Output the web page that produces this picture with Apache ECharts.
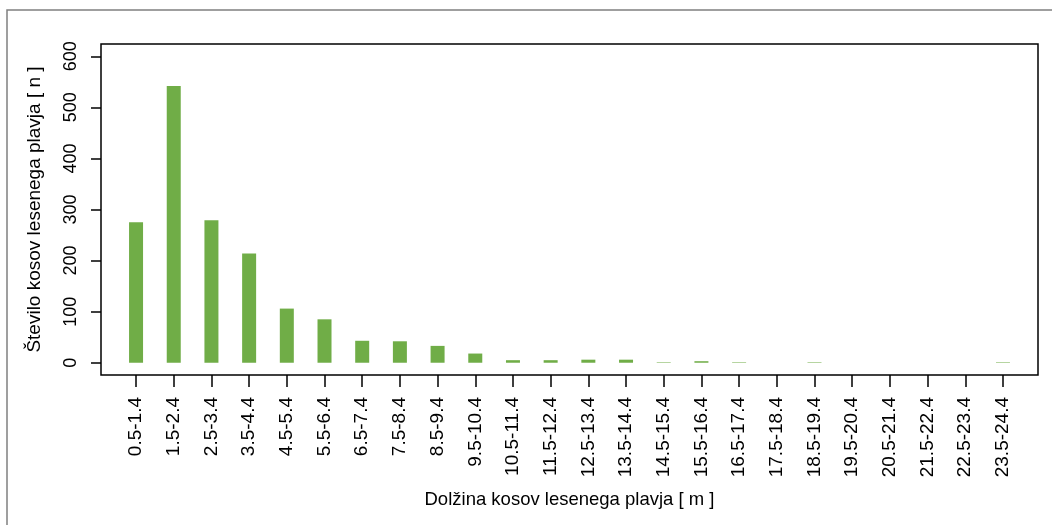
<!DOCTYPE html>
<html>
<head>
<meta charset="utf-8">
<script src="https://cdn.jsdelivr.net/npm/echarts@6/dist/echarts.min.js"></script>
<style>html,body{margin:0;padding:0;background:#fff}#c{width:1052px;height:525px}</style>
</head>
<body>
<div id="c"></div>
<script>
const categories = ['0.5-1.4','1.5-2.4','2.5-3.4','3.5-4.4','4.5-5.4','5.5-6.4','6.5-7.4','7.5-8.4','8.5-9.4','9.5-10.4','10.5-11.4','11.5-12.4','12.5-13.4','13.5-14.4','14.5-15.4','15.5-16.4','16.5-17.4','17.5-18.4','18.5-19.4','19.5-20.4','20.5-21.4','21.5-22.4','22.5-23.4','23.5-24.4'];
const counts = [275, 542, 279, 214, 106, 85, 43, 42, 33, 18, 5, 5, 6, 6, 1, 3, 1, 0, 1, 0, 0, 0, 0, 1];
const yTicks = [0, 100, 200, 300, 400, 500, 600];
const xTitle = 'Dolžina kosov lesenega plavja [ m ]';
const yTitle = 'Število kosov lesenega plavja [ n ]';

const font = 'Liberation Sans, Arial, sans-serif';
const xIdx = categories.map((c, i) => i);
const chart = echarts.init(document.getElementById('c'), null, {renderer: 'canvas'});
chart.setOption({
  animation: false,
  backgroundColor: '#fff',
  graphic: [{
    type: 'rect', silent: true,
    shape: {x: 7, y: 10, width: 1200, height: 700},
    style: {fill: 'none', stroke: '#808080', lineWidth: 1.5}
  }],
  grid: {left: 101, top: 44, width: 937, height: 331, show: true, borderColor: '#000', borderWidth: 1.5, backgroundColor: 'transparent'},
  xAxis: {
    type: 'value', min: -0.93, max: 23.93,
    axisLine: {show: false, onZero: false},
    splitLine: {show: false},
    axisTick: {show: true, customValues: xIdx, length: 12, lineStyle: {color: '#000', width: 1.5}},
    axisLabel: {customValues: xIdx, rotate: 90, margin: 22, fontSize: 19, color: '#000', fontFamily: font,
      formatter: v => categories[Math.round(v)]},
    name: xTitle, nameLocation: 'middle', nameGap: 115,
    nameTextStyle: {fontSize: 18.5, color: '#000', fontFamily: font}
  },
  yAxis: {
    type: 'value', min: -24, max: 624,
    axisLine: {show: false, onZero: false},
    splitLine: {show: false},
    axisTick: {show: true, customValues: yTicks, length: 10, lineStyle: {color: '#000', width: 1.5}},
    axisLabel: {customValues: yTicks, rotate: 90, margin: 21, fontSize: 18, color: '#000', fontFamily: font},
    name: yTitle, nameLocation: 'middle', nameGap: 57, nameRotate: 90,
    nameTextStyle: {fontSize: 19, color: '#000', fontFamily: font}
  },
  series: [{
    type: 'bar',
    data: counts.map((v, i) => [i, v]),
    barWidth: 14,
    itemStyle: {color: '#70ad47'}
  }]
});
</script>
</body>
</html>
